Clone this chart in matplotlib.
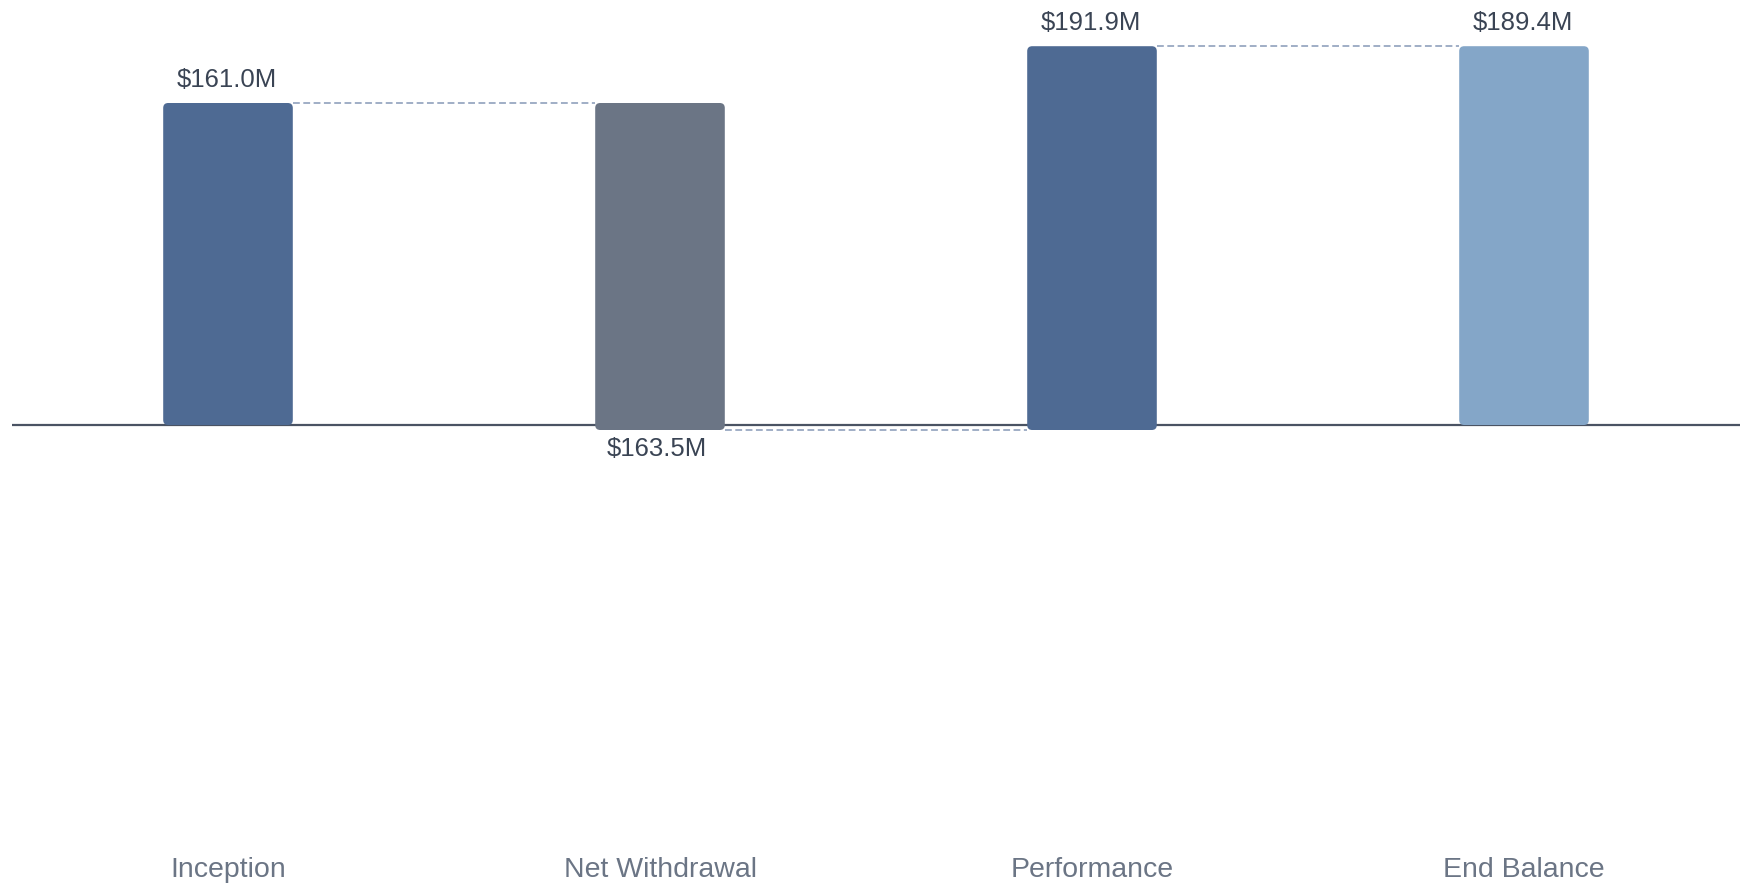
import numpy as np
import matplotlib
matplotlib.use("Agg")
import matplotlib.pyplot as plt
from matplotlib.patches import FancyBboxPatch

# Waterfall steps (in $M)
categories = ["Inception", "Net Withdrawal", "Performance", "End Balance"]
changes = [161.0, -163.5, 191.9, 189.4]
is_total = [False, False, False, True]
bar_colors = ["#4e6a93", "#6b7585", "#4e6a93", "#84a6c8"]

plt.rcParams['font.family'] = ['Liberation Sans', 'DejaVu Sans']

# Running levels for each step
bottoms, tops = [], []
level = 0.0
for v, tot in zip(changes, is_total):
    if tot:
        lo, hi = 0.0, v
        level = v
    else:
        lo, hi = level, level + v
        level = level + v
    bottoms.append(min(lo, hi))
    tops.append(max(lo, hi))

fig = plt.figure(figsize=(17.42, 8.84), dpi=100)
ax = fig.add_axes([12 / 1742, 34 / 884, 1728 / 1742, 850 / 884])
ax.set_xlim(-0.5, 3.5)
ax.set_ylim(-212.5, 212.5)

x = np.arange(len(categories))
width = 0.3

# pixel aspect so the corner chamfer looks even on both axes
px_x = 1.0 / 432
px_y = 0.5
aspect = px_y / px_x

for i in range(len(categories)):
    h = tops[i] - bottoms[i]
    patch = FancyBboxPatch((x[i] - width / 2, bottoms[i]), width, h,
                           boxstyle="round,pad=0,rounding_size=%f" % (5 * px_x),
                           mutation_aspect=aspect,
                           facecolor=bar_colors[i], edgecolor="none", zorder=3)
    ax.add_patch(patch)

    label = f"${abs(changes[i]):.1f}M"
    if changes[i] >= 0:
        ax.annotate(label, (x[i], tops[i]), xytext=(-1, 8), textcoords="offset points",
                    ha="center", va="bottom", fontsize=18.5, color="#3a4454")
    else:
        ax.annotate(label, (x[i], bottoms[i]), xytext=(-2, -5), textcoords="offset points",
                    ha="center", va="top", fontsize=18.5, color="#3a4454")

# dashed connectors between consecutive bars
for i in range(len(categories) - 1):
    y = bottoms[i] if changes[i] < 0 else tops[i]
    ax.plot([x[i] + width / 2, x[i + 1] - width / 2], [y, y],
            linestyle=(0, (3.5, 1.8)), color="#a0aec6", lw=1.4, zorder=2)

ax.axhline(0, color="#4a5363", lw=1.6, zorder=2)

ax.set_xticks(x)
ax.set_xticklabels(categories, fontsize=20.5, color="#6b7585")
ax.tick_params(axis="x", length=0, pad=5)
ax.set_yticks([])
for s in ax.spines.values():
    s.set_visible(False)

fig.savefig("out.png", dpi=100)
